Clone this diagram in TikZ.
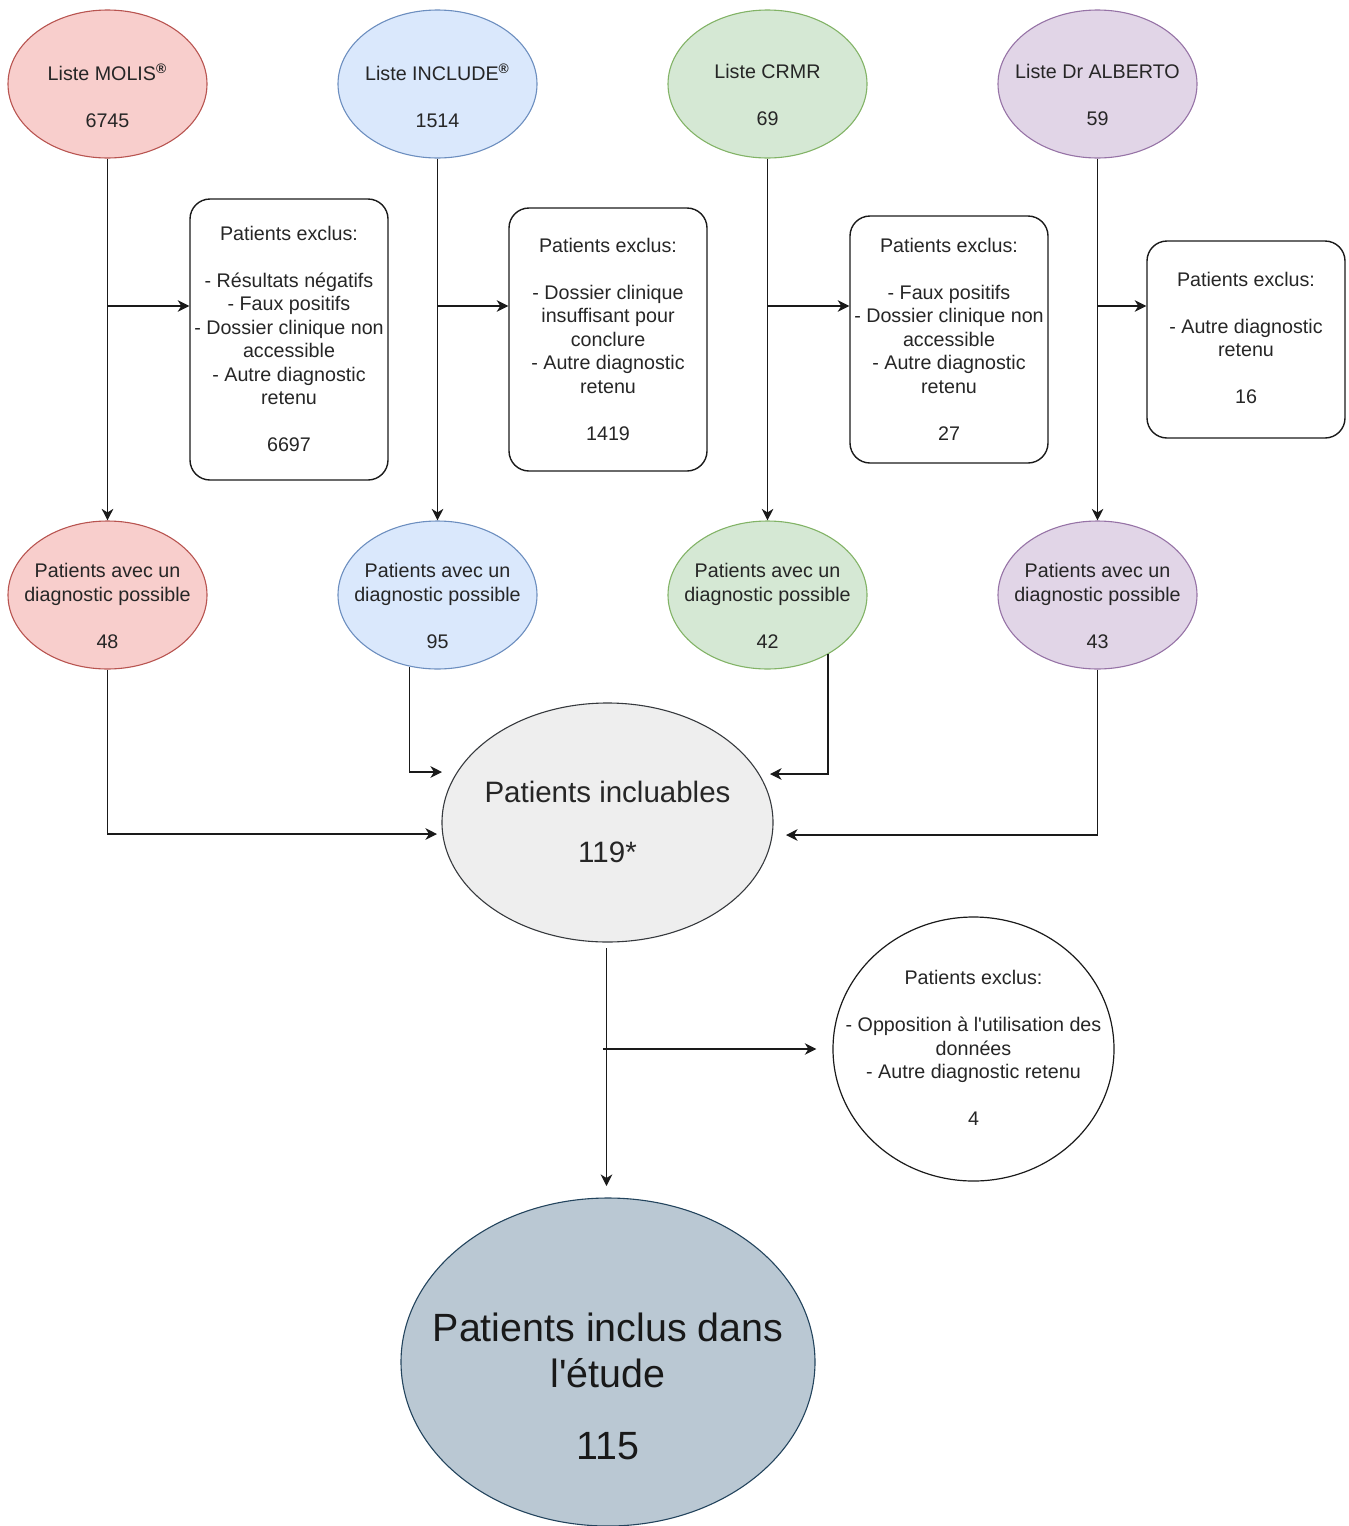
\documentclass[tikz,border=0pt]{standalone}
\usepackage{fontspec}
\setmainfont{Liberation Sans}
\usetikzlibrary{shapes.geometric,arrows.meta}
\definecolor{redF}{HTML}{F8CECC}\definecolor{redD}{HTML}{B85450}
\definecolor{bluF}{HTML}{DAE8FC}\definecolor{bluD}{HTML}{6C8EBF}
\definecolor{grnF}{HTML}{D5E8D4}\definecolor{grnD}{HTML}{82B366}
\definecolor{purF}{HTML}{E1D5E7}\definecolor{purD}{HTML}{9673A6}
\definecolor{gryF}{HTML}{EEEEEE}\definecolor{gryD}{HTML}{36393D}
\definecolor{finF}{HTML}{BAC8D3}\definecolor{finD}{HTML}{23445D}
\definecolor{txtc}{HTML}{262626}
\definecolor{linec}{HTML}{1A1A1A}
\newcommand{\regm}{\textsuperscript{\textbf{®}}}
\begin{document}
\begin{tikzpicture}[x=0.5pt,y=-0.5pt,
  src/.style={ellipse, draw, line width=0.55pt, minimum width=99.5pt, minimum height=74pt, inner sep=0pt},
  exbox/.style={draw=linec, rounded corners=10pt, line width=0.7pt, inner sep=0pt, minimum width=99pt},
  txt/.style={align=center, font=\fontsize{9.85pt}{11.75pt}\selectfont, text=txtc, inner sep=0pt},
  arr/.style={draw=linec, line width=0.6pt, -{Stealth[length=5.8pt,width=5.8pt,inset=1.8pt]}},
  ln/.style={draw=linec, line width=0.6pt}
]
\useasboundingbox (0,0) rectangle (1349,1526);

% top source ellipses
\node[src, fill=redF, draw=redD] (s1) at (107.5,84) {};
\node[src, fill=bluF, draw=bluD] (s2) at (437.5,84) {};
\node[src, fill=grnF, draw=grnD] (s3) at (767.5,84) {};
\node[src, fill=purF, draw=purD] (s4) at (1097.5,84) {};
\node[txt] (ts1) at (107.5,96) {Liste MOLIS\regm\\[11.75pt]6745};
\node[txt] (ts2) at (437.5,96) {Liste INCLUDE\regm\\[11.75pt]1514};
\node[txt] (ts3) at (767.5,94.5) {Liste CRMR\\[11.75pt]69};
\node[txt] (ts4) at (1097.5,94.5) {Liste Dr ALBERTO\\[11.75pt]59};

% second row ellipses
\node[src, fill=redF, draw=redD] (p1) at (107.5,595) {};
\node[src, fill=bluF, draw=bluD] (p2) at (437.5,595) {};
\node[src, fill=grnF, draw=grnD] (p3) at (767.5,595) {};
\node[src, fill=purF, draw=purD] (p4) at (1097.5,595) {};
\node[txt] (tp1) at (107.5,606) {Patients avec un\\diagnostic possible\\[11.75pt]48};
\node[txt] (tp2) at (437.5,606) {Patients avec un\\diagnostic possible\\[11.75pt]95};
\node[txt] (tp3) at (767.5,606) {Patients avec un\\diagnostic possible\\[11.75pt]42};
\node[txt] (tp4) at (1097.5,606) {Patients avec un\\diagnostic possible\\[11.75pt]43};

% exclusion boxes
\node[exbox, minimum height=140.5pt] (b1) at (289,339.5) {};
\node[exbox, minimum height=131.5pt] (b2) at (608,339.5) {};
\node[exbox, minimum height=123.5pt] (b3) at (949,339.5) {};
\node[exbox, minimum height=98.5pt] (b4) at (1246,339.5) {};
\node[txt] (tb1) at (289,339) {Patients exclus:\\[11.75pt]- Résultats négatifs\\- Faux positifs\\- Dossier clinique non\\accessible\\- Autre diagnostic\\retenu\\[11.75pt]6697};
\node[txt] (tb2) at (608,339) {Patients exclus:\\[11.75pt]- Dossier clinique\\insuffisant pour\\conclure\\- Autre diagnostic\\retenu\\[11.75pt]1419};
\node[txt] (tb3) at (949,339) {Patients exclus:\\[11.75pt]- Faux positifs\\- Dossier clinique non\\accessible\\- Autre diagnostic\\retenu\\[11.75pt]27};
\node[txt] (tb4) at (1246,338) {Patients exclus:\\[11.75pt]- Autre diagnostic\\retenu\\[11.75pt]16};

% central
\node[ellipse, draw=gryD, fill=gryF, line width=0.55pt, minimum width=165.5pt, minimum height=119.5pt, inner sep=0pt] (inc) at (607.5,822.5) {};
\node[align=center, font=\fontsize{14.75pt}{30pt}\selectfont, text=txtc, inner sep=0pt] (tinc) at (607.5,822) {Patients incluables\\119*};

\node[ellipse, draw=linec, fill=white, line width=0.6pt, minimum width=140.5pt, minimum height=132pt, inner sep=0pt] (ex5) at (973.5,1049) {};
\node[txt] (tex5) at (973.5,1048) {Patients exclus:\\[11.75pt]- Opposition à l\textquotesingle utilisation des\\données\\- Autre diagnostic retenu\\[11.75pt]4};

\node[ellipse, draw=finD, fill=finF, line width=0.55pt, minimum width=207pt, minimum height=164pt, inner sep=0pt] (fin) at (608,1362) {};
\node[align=center, font=\fontsize{19.7pt}{23pt}\selectfont, text=black!90, inner sep=0pt] (tfin) at (608,1386) {Patients inclus dans\\l\textquotesingle étude\\[13pt]115};

% connectors: sources to second row
\foreach \i in {1,2,3,4} {
  \draw[arr] (s\i.south) -- (p\i.north);
}
% branches to exclusion boxes
\coordinate (c1) at (107.5,306);
\coordinate (c2) at (437.5,306);
\coordinate (c3) at (767.5,306);
\coordinate (c4) at (1097.5,306);
\draw[arr] (c1) -- (c1 -| b1.west);
\draw[arr] (c2) -- (c2 -| b2.west);
\draw[arr] (c3) -- (c3 -| b3.west);
\draw[arr] (c4) -- (c4 -| b4.west);

% second row to central
\coordinate (e1) at (437,834);
\coordinate (q2) at (409.5,667);
\coordinate (e2) at (442,772);
\coordinate (q3) at (828,654);
\coordinate (e3) at (770,774);
\coordinate (e4) at (786,835);
\draw[arr] (p1.south) |- (e1);
\draw[arr] (q2) |- (e2);
\draw[arr] (q3) |- (e3);
\draw[arr] (p4.south) |- (e4);

% central to final
\coordinate (d1) at (606.5,948);
\coordinate (d2) at (606.5,1186);
\draw[arr] (d1) -- (d2);
\coordinate (g1) at (603,1049);
\draw[arr] (g1) -- ([xshift=-8pt]ex5.west);
\end{tikzpicture}
\end{document}
